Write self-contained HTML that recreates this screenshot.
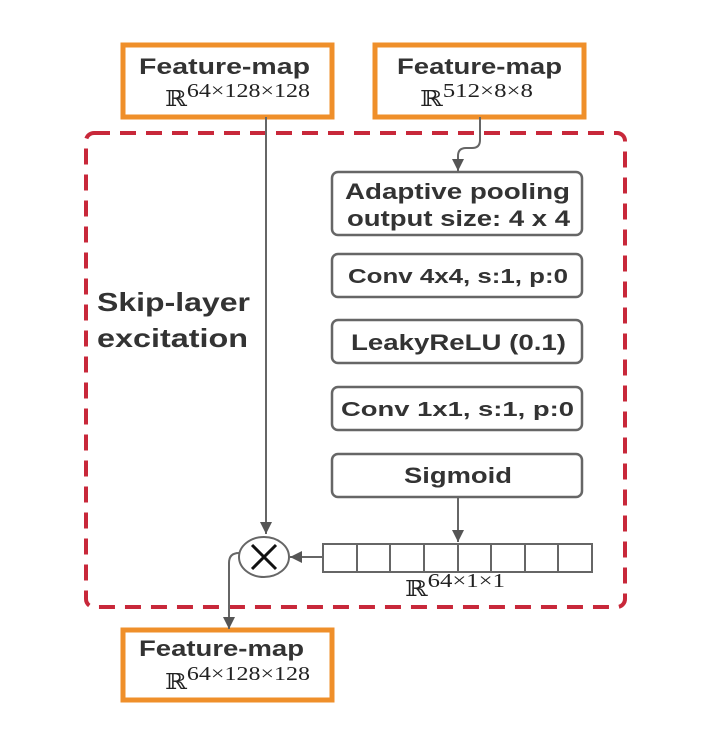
<!DOCTYPE html>
<html><head><style>
body{margin:0;background:#fff;}
svg{display:block;}
.b{font-family:"Liberation Sans",sans-serif;font-weight:bold;fill:#333;}
.r{font-family:"Liberation Serif","DejaVu Serif",serif;fill:#222;}
</style></head><body>
<svg width="719" height="730" viewBox="0 0 719 730">
<defs><marker id="a" markerWidth="14" markerHeight="14" refX="12" refY="6" orient="auto" markerUnits="userSpaceOnUse"><path d="M0,0 L12,6 L0,12z" fill="#555"/></marker></defs>
<rect x="86" y="133" width="539" height="474" rx="8" fill="none" stroke="#c8283a" stroke-width="4" stroke-dasharray="16,10"/>
<g fill="#fff" stroke="#ef8f2a" stroke-width="5">
<rect x="123" y="45" width="209" height="72"/>
<rect x="375" y="45" width="209" height="72"/>
<rect x="123" y="630" width="209" height="70"/>
</g>
<text class="b" x="139" y="74" font-size="22" textLength="171" lengthAdjust="spacingAndGlyphs">Feature-map</text>
<text class="r" x="165" y="106" font-size="22" textLength="145" lengthAdjust="spacingAndGlyphs">ℝ<tspan font-size="20" dy="-9">64×128×128</tspan></text>
<text class="b" x="397" y="74" font-size="22" textLength="165" lengthAdjust="spacingAndGlyphs">Feature-map</text>
<text class="r" x="420" y="106" font-size="22" textLength="113" lengthAdjust="spacingAndGlyphs">ℝ<tspan font-size="20" dy="-9">512×8×8</tspan></text>
<text class="b" x="139" y="656" font-size="22" textLength="165" lengthAdjust="spacingAndGlyphs">Feature-map</text>
<text class="r" x="165" y="689" font-size="22" textLength="145" lengthAdjust="spacingAndGlyphs">ℝ<tspan font-size="20" dy="-9">64×128×128</tspan></text>
<g fill="#fff" stroke="#666" stroke-width="2.5">
<rect x="332" y="172" width="250" height="63" rx="6"/>
<rect x="332" y="254" width="250" height="43" rx="6"/>
<rect x="332" y="320" width="250" height="43" rx="6"/>
<rect x="332" y="387" width="250" height="43" rx="6"/>
<rect x="332" y="454" width="250" height="43" rx="6"/>
</g>
<g class="b" font-size="22">
<text x="345" y="199" textLength="225" lengthAdjust="spacingAndGlyphs">Adaptive pooling</text>
<text x="347" y="226" textLength="223" lengthAdjust="spacingAndGlyphs">output size: 4 x 4</text>
<text x="348" y="283" font-size="20" textLength="220" lengthAdjust="spacingAndGlyphs">Conv 4x4, s:1, p:0</text>
<text x="351" y="350" textLength="215" lengthAdjust="spacingAndGlyphs">LeakyReLU (0.1)</text>
<text x="341" y="416" font-size="20" textLength="233" lengthAdjust="spacingAndGlyphs">Conv 1x1, s:1, p:0</text>
<text x="404" y="483" textLength="108" lengthAdjust="spacingAndGlyphs">Sigmoid</text>
</g>
<text class="b" x="97" y="311" font-size="26" textLength="153" lengthAdjust="spacingAndGlyphs">Skip-layer</text>
<text class="b" x="97" y="347" font-size="26" textLength="151" lengthAdjust="spacingAndGlyphs">excitation</text>
<g stroke="#666" stroke-width="2" fill="none">
<path d="M266,117 V534" marker-end="url(#a)"/>
<path d="M480,117 V140 Q480,148 472,148 H466 Q458,148 458,156 V171" marker-end="url(#a)"/>
<path d="M458,497 V542" marker-end="url(#a)"/>
<path d="M323,557 H290" marker-end="url(#a)"/>
<path d="M239,553 Q229,553 229,563 V629" marker-end="url(#a)"/>
</g>
<g fill="#fff" stroke="#666" stroke-width="2">
<rect x="323" y="544" width="269" height="28"/>
<path d="M357,544V572M390,544V572M424,544V572M458,544V572M491,544V572M525,544V572M558,544V572"/>
</g>
<text class="r" x="405" y="596" font-size="22" textLength="100" lengthAdjust="spacingAndGlyphs">ℝ<tspan font-size="20" dy="-9">64×1×1</tspan></text>
<ellipse cx="264" cy="557" rx="25" ry="20" fill="#fff" stroke="#666" stroke-width="2"/>
<path d="M252,545 L276,569 M276,545 L252,569" stroke="#111" stroke-width="3"/>
</svg>
</body></html>
